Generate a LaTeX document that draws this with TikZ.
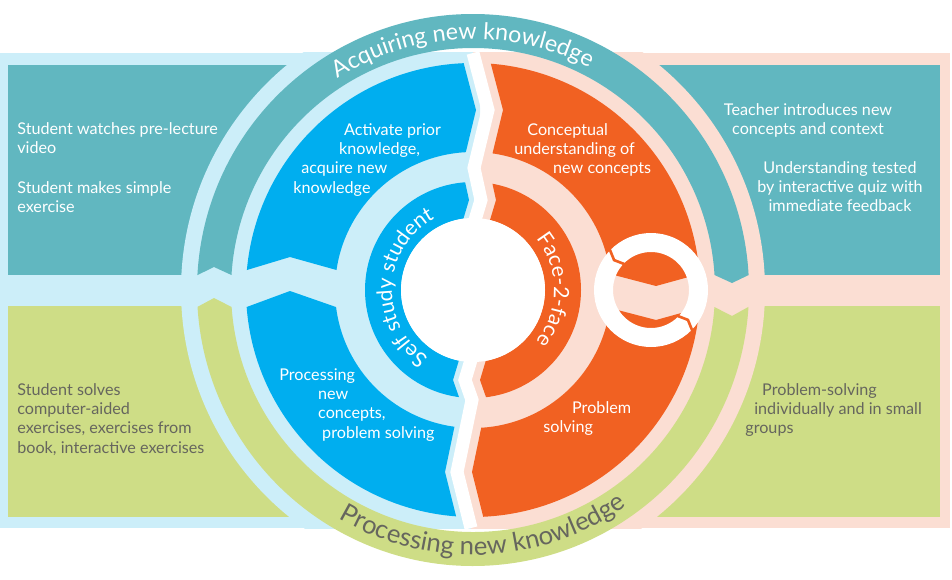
\documentclass[tikz,border=0pt]{standalone}
\usepackage{fontspec}
\setmainfont{Lato}
\usepackage{tikz}
\usetikzlibrary{decorations.text}

\definecolor{lightbg}{HTML}{CCEEF9}
\definecolor{pinkbg}{HTML}{FBDED3}
\definecolor{tealc}{HTML}{61B7C0}
\definecolor{greenc}{HTML}{CEDD86}
\definecolor{bluec}{HTML}{00AEEF}
\definecolor{orangec}{HTML}{F16122}
\definecolor{grayc}{HTML}{66665E}

\newcommand\lefthalf{(-10,590) -- (473,590) -- (473,526) -- (488,469) -- (474,411) -- (481,379) -- (475,359) -- (471,219) -- (465,199) -- (472,179) -- (457,107) -- (471,51) -- (471,-10) -- (-10,-10) -- cycle}
\newcommand\righthalf{(962,590) -- (473,590) -- (473,526) -- (488,469) -- (474,411) -- (481,379) -- (475,359) -- (471,219) -- (465,199) -- (472,179) -- (457,107) -- (471,51) -- (471,-10) -- (962,-10) -- cycle}

\tikzset{
  wtxt/.style={text=white, inner sep=0pt, font=\fontsize{9.2}{11}\selectfont, align=left, anchor=north west},
  gtxt/.style={wtxt, text=grayc},
  arctxt/.style={decorate, decoration={text along path, text align=center, text color=#1}}
}

\begin{document}
\begin{tikzpicture}[x=0.02cm, y=0.02cm]
\useasboundingbox (0,0) rectangle (952,579);

\begin{scope}
\clip \lefthalf;
\fill[lightbg] (0,51) rectangle (480,526);
\fill[tealc] (8,304) rectangle (400,514);
\fill[greenc] (8,62) rectangle (400,273);
\clip (0,51) rectangle (480,526);
\fill[lightbg] (473,289) circle (292);
\end{scope}

\begin{scope}
\clip \righthalf;
\fill[pinkbg] (460,51) rectangle (950,526);
\fill[tealc] (550,304) rectangle (940,514);
\fill[greenc] (550,62) rectangle (940,273);
\clip (460,51) rectangle (950,526);
\fill[pinkbg] (473,289) circle (292);
\end{scope}

\begin{scope}[shift={(473,289)}]
\fill[tealc] (176.9:276) arc[start angle=176.9, end angle=3.1, radius=276] -- (259,7) -- (3.55:242) arc[start angle=3.55, end angle=176.45, radius=242] -- (-259,23) -- cycle;
\fill[greenc] (183.5:276) arc[start angle=183.5, end angle=356.5, radius=276] -- (259,-26) -- (355.97:242) arc[start angle=355.97, end angle=184.03, radius=242] -- (-259,-8) -- cycle;
\end{scope}

\begin{scope}
\clip[xshift=-0.24cm] \lefthalf;
\begin{scope}[shift={(473,289)}]
\fill[bluec] (70:227) arc[start angle=70, end angle=174.95, radius=227] -- (-183,33) -- (171.67:138) arc[start angle=171.67, end angle=70, radius=138] -- cycle;
\fill[bluec] (184.3:227) arc[start angle=184.3, end angle=290, radius=227] -- (290:138) arc[start angle=290, end angle=187.1, radius=138] -- (-183,-1) -- cycle;
\fill[bluec, even odd rule] (0,0) circle (108) (0,0) circle (72);
\end{scope}
\end{scope}

\begin{scope}
\clip[xshift=0.3cm] \righthalf;
\begin{scope}[shift={(473,289)}]
\fill[orangec] (110:227) arc[start angle=110, end angle=4.04, radius=227] -- (183,4) -- (6.66:138) arc[start angle=6.66, end angle=110, radius=138] -- cycle;
\fill[orangec] (-4.55:227) arc[start angle=-4.55, end angle=-110, radius=227] -- (-110:138) arc[start angle=-110, end angle=-7.49, radius=138] -- (183,-30) -- cycle;
\fill[orangec, even odd rule] (0,0) circle (108) (0,0) circle (72);
\end{scope}
\end{scope}

\fill[white] (473,289) circle (72);
\draw[white, line width=7.4pt, line join=miter] (473,526) -- (488,469) -- (474,411) -- (481,379) -- (475,359) -- (471,219) -- (465,199) -- (472,179) -- (457,107) -- (471,51);

\begin{scope}[shift={(651,289)}]
\fill[white, even odd rule] (0,0) circle (57) (0,0) circle (38);
\draw[orangec, line width=1.5pt] (135:36) -- (141:47.5) -- (135:59);
\draw[orangec, line width=1.5pt] (-45:36) -- (-39:47.5) -- (-45:59);
\end{scope}

\begin{scope}[shift={(473,289)}]
\path[arctxt=white, decoration={text={|\fontsize{13.2}{13}\selectfont|Acquiring new knowledge}}] (128:251) arc[start angle=128, end angle=57, radius=251];
\path[arctxt=grayc, decoration={text={|\fontsize{14.6}{14}\selectfont|Processing new knowledge}}] (232:265) arc[start angle=232, end angle=313, radius=265];
\path[arctxt=white, decoration={text={|\fontsize{12}{12}\selectfont|Self study student}}] (255:81) arc[start angle=255, end angle=100, radius=81];
\path[arctxt=white, decoration={text={|\fontsize{12}{12}\selectfont|Face-2-face}}] (62:81) arc[start angle=62, end angle=-62, radius=81];
\end{scope}

\node[wtxt] (video) at (17,457) {Student watches pre-lecture\\video};
\node[wtxt] (simple) at (17,398) {Student makes simple\\exercise};
\node[gtxt] (solves) at (17,196) {Student solves\\computer-aided\\exercises, exercises from\\book, interactive exercises};
\node[wtxt, anchor=north, align=center] (teacher) at (808,476) {Teacher introduces new\\concepts and context};
\node[wtxt, anchor=north, align=center] (quiz) at (840,418) {Understanding tested\\by interactive quiz with\\immediate feedback};
\node[gtxt] (groups) at (745,196) {\hspace*{9.6pt}Problem-solving\\\hspace*{5.1pt}individually and in small\\groups};
\node[wtxt] (prior) at (293,456) {\hspace*{28.9pt}Activate prior\\\hspace*{26.1pt}knowledge,\\\hspace*{4.5pt}acquire new\\knowledge};
\node[wtxt] (concept) at (514,456) {\hspace*{7.4pt}Conceptual\\understanding of\\\hspace*{22.1pt}new concepts};
\node[wtxt] (process) at (279,211) {Processing\\\hspace*{22.1pt}new\\\hspace*{22.1pt}concepts,\\\hspace*{24.4pt}problem solving};
\node[wtxt] (problem) at (543,178) {\hspace*{16.4pt}Problem\\solving};
\end{tikzpicture}
\end{document}
